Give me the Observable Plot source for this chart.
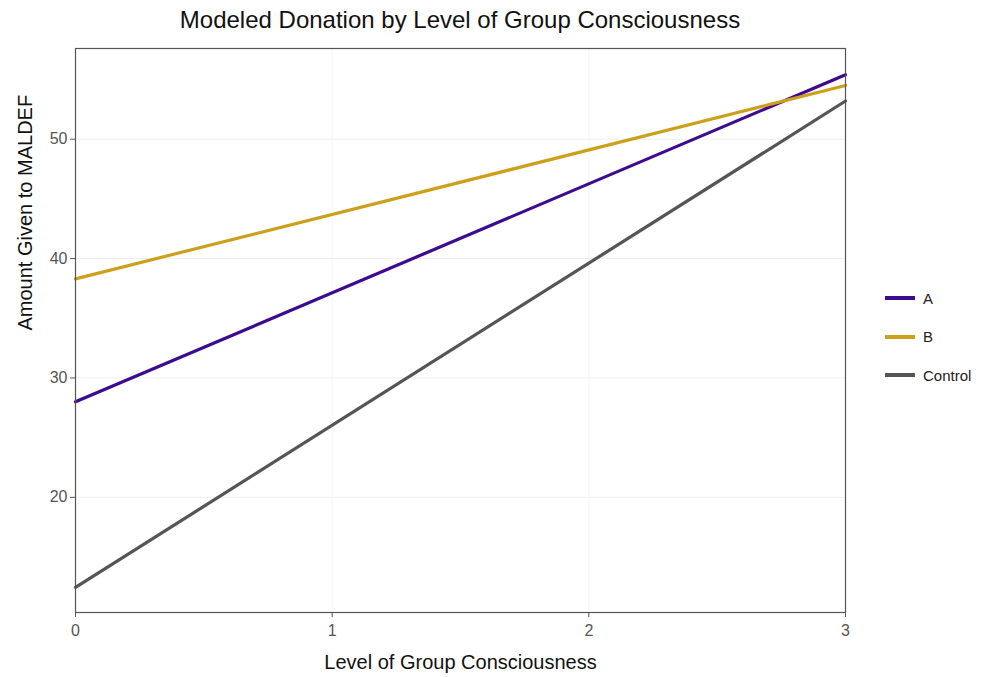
<!DOCTYPE html>
<html>
<head>
<meta charset="utf-8">
<script src="https://cdn.jsdelivr.net/npm/d3@7"></script>
<script src="https://cdn.jsdelivr.net/npm/@observablehq/plot@0.6"></script>
<style>
  body { margin: 0; background: #fff; font-family: "Liberation Sans", Arial, sans-serif; }
  #wrap { position: relative; width: 987px; height: 677px; }
  #title { position: absolute; left: 75px; width: 770px; top: 6px; text-align: center; font-size: 24px; color: #111; }
  #chart { position: absolute; left: 0; top: 40px; }
  #legend { position: absolute; left: 885px; top: 279px; font-size: 15px; color: #222; }
  .item { display: flex; align-items: center; height: 38.5px; }
  .sw { width: 30px; height: 4px; margin-right: 8px; }
</style>
</head>
<body>
<div id="wrap">
  <div id="title">Modeled Donation by Level of Group Consciousness</div>
  <div id="chart"></div>
  <div id="legend"></div>
</div>
<script>
const groups = ["A", "B", "Control"];
const colors = ["#3d0c8e", "#cda01c", "#555555"];
const consciousness = [0, 3];
const valuesA = [28.0, 55.4];
const valuesB = [38.3, 54.5];
const valuesControl = [12.45, 53.2];
const xTicks = [0, 1, 2, 3];
const yTicks = [20, 30, 40, 50];

const series = {A: valuesA, B: valuesB, Control: valuesControl};
const data = groups.flatMap(g => consciousness.map((x, i) => ({group: g, x, y: series[g][i]})));

const chart = Plot.plot({
  width: 870,
  height: 637,
  marginTop: 8,
  marginBottom: 65,
  marginLeft: 75,
  marginRight: 25,
  style: {fontFamily: "Liberation Sans, Arial, sans-serif", fontSize: "16px", background: "#fff"},
  x: {domain: [0, 3]},
  y: {domain: [10.35, 57.6]},
  color: {domain: groups, range: colors},
  marks: [
    Plot.gridY(yTicks, {stroke: "#efefef", strokeOpacity: 1, strokeWidth: 1}),
    Plot.gridX(xTicks, {stroke: "#f5f5f5", strokeOpacity: 1, strokeWidth: 1}),
    Plot.line(data, {x: "x", y: "y", z: "group", stroke: "group", strokeWidth: 3.2}),
    Plot.frame({stroke: "#555", strokeWidth: 1.2}),
    Plot.axisY({ticks: yTicks, tickFormat: "d", tickSize: 5, tickPadding: 3, label: null, color: "#555", fill: "#555"}),
    Plot.axisX({ticks: xTicks, tickFormat: "d", tickSize: 5, tickPadding: 7, label: null, color: "#555", fill: "#555"}),
    Plot.text(["Level of Group Consciousness"], {frameAnchor: "bottom", dy: 56, fontSize: 20, fill: "#111"}),
    Plot.text(["Amount Given to MALDEF"], {frameAnchor: "left", rotate: -90, dx: -50, fontSize: 20, fill: "#111"})
  ]
});
document.getElementById("chart").append(chart);

const legend = document.getElementById("legend");
groups.forEach((g, i) => {
  const item = document.createElement("div");
  item.className = "item";
  const sw = document.createElement("div");
  sw.className = "sw";
  sw.style.background = colors[i];
  const lab = document.createElement("span");
  lab.textContent = g;
  item.append(sw, lab);
  legend.append(item);
});
</script>
</body>
</html>
